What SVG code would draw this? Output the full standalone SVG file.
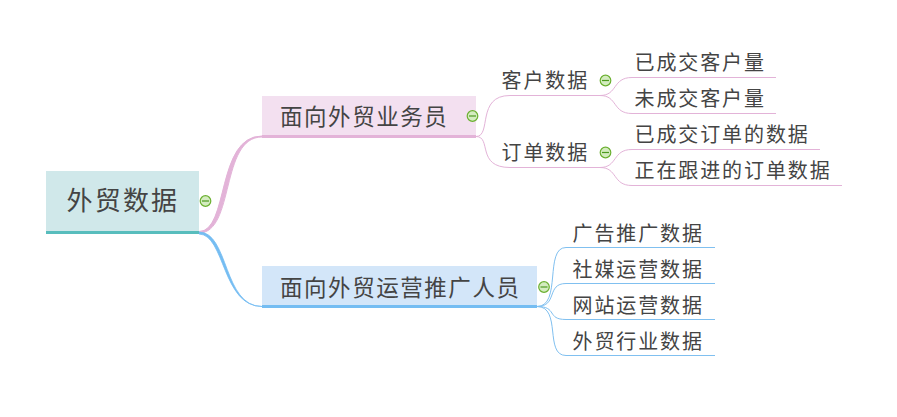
<svg xmlns="http://www.w3.org/2000/svg" width="897" height="417" viewBox="0 0 897 417">
<style>
text{font-family:"Noto Sans CJK SC","Liberation Sans",sans-serif;fill:#444}
.r{font-size:26px;letter-spacing:2.200px}
.b{font-size:22.500px;letter-spacing:1.550px}
.l{font-size:20px;letter-spacing:1.900px}
.p{fill:none;stroke:#e3b3d8;stroke-width:1}
.q{fill:none;stroke:#80c0f0;stroke-width:1}
.m circle{fill:#d4ecc0;stroke:#6bb030;stroke-width:1.2}
.m line{stroke:#4d9a20;stroke-width:1.2}
</style>
<defs>
<g id="minus" class="m"><circle cx="0" cy="0" r="5.300"/><line x1="-3.500" y1="0" x2="3.500" y2="0"/></g>
</defs>
<g id="connectors">
<path d="M199 231.500C229 231.500 216 136 262 136L262 137C220 137 235 233 199 233Z" fill="#e3b3d8" stroke="#e3b3d8" stroke-width="1"/>
<path d="M199 232C229 232 223 306.500 262 306.500C222 306.500 225 234.500 199 234Z" fill="#75bdf2" stroke="#75bdf2" stroke-width="0.800"/>
<path class="p" d="M476 136.500C492 136.500 476 95.500 510 95.500H600"/>
<path class="p" d="M476 136.500C492 136.500 476 167.500 510 167.500H600"/>
<path class="p" d="M600 95.500C618 95.500 612 77.500 632 77.500H776"/>
<path class="p" d="M600 95.500C618 95.500 612 113.500 632 113.500H776"/>
<path class="p" d="M600 167.500C618 167.500 612 149.500 632 149.500H820"/>
<path class="p" d="M600 167.500C618 167.500 612 185.500 632 185.500H842"/>
<path class="q" d="M537 306.500C562 306.500 544 247.500 566 247.500H715"/>
<path class="q" d="M537 306.500C558 306.500 546 283.500 566 283.500H715"/>
<path class="q" d="M537 306.500C558 306.500 546 319.500 566 319.500H715"/>
<path class="q" d="M537 306.500C562 306.500 544 355.500 566 355.500H715"/>
</g>
<g id="root">
<rect x="46" y="171" width="153" height="62" fill="#d0e8ea"/>
<rect x="46" y="231" width="153" height="3" fill="#58bdbd"/>
<text class="r" x="66.500" y="210">外贸数据</text>
<use href="#minus" x="205.500" y="201"/>
</g>
<g id="branch1">
<rect x="262" y="96" width="214" height="42" fill="#f3e0f0"/>
<rect x="262" y="135" width="214" height="3" fill="#e3b3d8"/>
<text class="b" x="280" y="125">面向外贸业务员</text>
<use href="#minus" x="472.500" y="116"/>
</g>
<g id="branch2">
<rect x="262" y="266" width="275" height="42" fill="#d3e6f9"/>
<rect x="262" y="305" width="275" height="3" fill="#75bdf2"/>
<text class="b" x="280" y="296">面向外贸运营推广人员</text>
<use href="#minus" x="544" y="287"/>
</g>
<g id="n1"><text class="l" x="501.500" y="88">客户数据</text><use href="#minus" x="605.500" y="80.500"/></g>
<g id="n2"><text class="l" x="501.500" y="160">订单数据</text><use href="#minus" x="605.500" y="152.500"/></g>
<g id="n3"><text class="l" x="634.500" y="70">已成交客户量</text></g>
<g id="n4"><text class="l" x="634.500" y="106">未成交客户量</text></g>
<g id="n5"><text class="l" x="634.500" y="142">已成交订单的数据</text></g>
<g id="n6"><text class="l" x="634.500" y="178">正在跟进的订单数据</text></g>
<g id="n7"><text class="l" x="572.500" y="240.500">广告推广数据</text></g>
<g id="n8"><text class="l" x="572.500" y="276.500">社媒运营数据</text></g>
<g id="n9"><text class="l" x="572.500" y="312.500">网站运营数据</text></g>
<g id="n10"><text class="l" x="572.500" y="348.500">外贸行业数据</text></g>
</svg>
